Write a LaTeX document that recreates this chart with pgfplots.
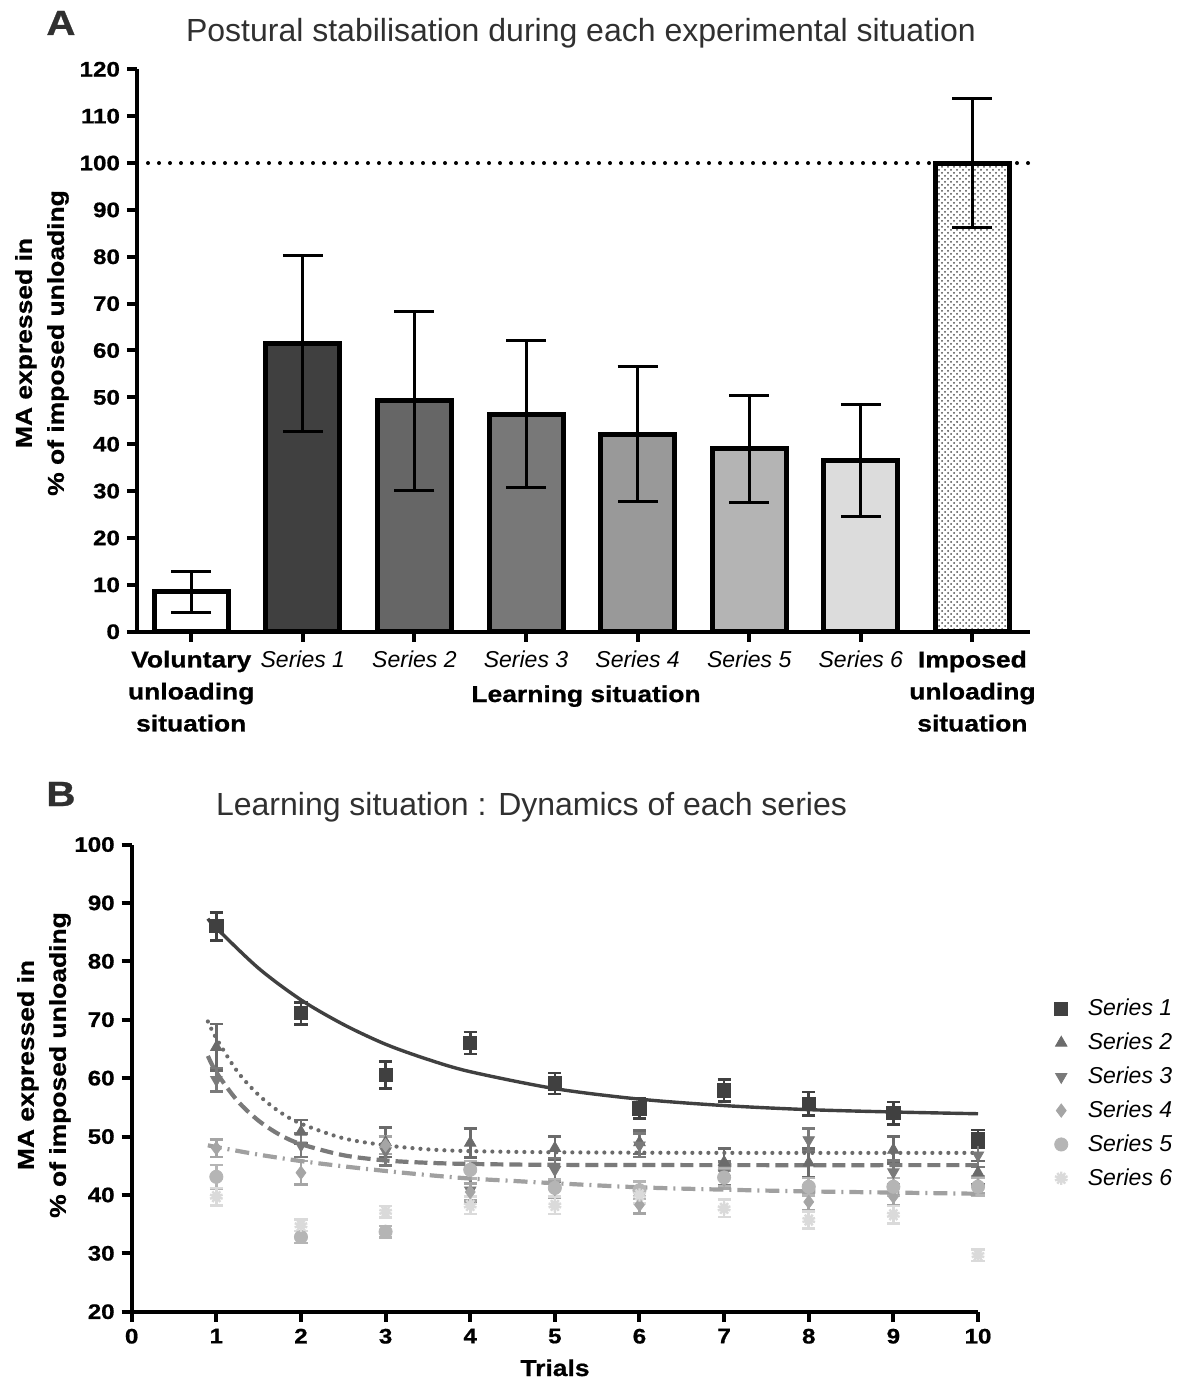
\documentclass[border=0pt]{standalone}
\usepackage{fontspec}
\setmainfont{Liberation Sans}[BoldFeatures={FakeStretch=1.15, FakeBold=0.8}]
\usepackage{pgfplots}
\usepackage{pgfplotstable}
\pgfplotsset{compat=1.18}
\usetikzlibrary{patterns,plotmarks}

\definecolor{ttl}{HTML}{303030}
\definecolor{bA}{HTML}{404040}
\definecolor{bB}{HTML}{666666}
\definecolor{bC}{HTML}{787878}
\definecolor{bD}{HTML}{999999}
\definecolor{bE}{HTML}{B4B4B4}
\definecolor{bF}{HTML}{DCDCDC}
\definecolor{mA}{HTML}{404040}
\definecolor{mB}{HTML}{6B6B6B}
\definecolor{mC}{HTML}{7A7A7A}
\definecolor{mD}{HTML}{A5A5A5}
\definecolor{mE}{HTML}{B5B5B5}
\definecolor{mF}{HTML}{DADADA}
\definecolor{fitD}{HTML}{A0A0A0}

\pgfplotstableread{
x s1 e1 s2 e2 s3 e3 s4 e4 s5 e5 s6 e6
1 86.0 2.4 65.3 4.0 59.7 2.0 48.0 1.5 43.1 2.0 39.7 1.5
2 71.1 1.9 50.8 2.0 48.5 2.0 43.8 2.0 32.8 1.0 34.8 1.0
3 60.5 2.3 49.0 2.5 47.5 2.5 48.5 1.5 33.7 1.0 37.1 1.0
4 66.0 1.9 48.9 2.5 40.8 2.0 40.5 1.5 44.3 1.5 38.2 1.5
5 59.1 1.8 48.0 2.0 44.3 2.0 41.0 1.5 41.2 1.5 38.2 1.5
6 54.8 1.7 49.0 2.0 48.5 2.0 38.3 1.5 40.8 1.5 40.0 1.5
7 57.9 1.9 45.6 2.4 43.7 2.0 42.6 1.5 43.0 1.5 37.7 1.5
8 55.6 2.0 45.5 2.5 49.4 2.0 38.8 1.5 41.4 1.5 35.7 1.5
9 54.0 1.9 47.7 2.3 43.9 2.0 39.7 1.5 41.4 1.5 36.6 1.5
10 49.6 1.5 43.8 2.0 46.8 2.0 41.7 1.5 41.4 1.5 29.7 1.0
}\seriesdata

\pgfplotsset{
  barA/.style={ybar, bar width=37pt, bar shift=0pt, draw=black, line width=2.5pt,
    error bars/y dir=both, error bars/y explicit,
    error bars/error bar style={line width=1.5pt, black, solid},
    error bars/error mark options={rotate=90, mark size=10pt, line width=1.5pt, black}},
  ptB/.style={only marks, mark size=3.3pt,
    error bars/y dir=both, error bars/y explicit,
    error bars/error bar style={line width=1.3pt, #1, solid},
    error bars/error mark options={rotate=90, mark size=3.3pt, line width=1.3pt, #1}},
}

\begin{document}
\begin{tikzpicture}
\useasboundingbox (0,0) rectangle (594.5pt,-689.5pt);

% ---------------- Panel A ----------------
\node[anchor=base west, font=\bfseries\fontsize{17.5}{20}\selectfont, text=ttl, inner sep=0pt] at (23pt,-17.5pt) {A};
\node[anchor=base, font=\fontsize{16}{19}\selectfont, text=ttl, inner sep=0pt] at (290.5pt,-21pt) {Postural stabilisation during each experimental situation};

\begin{axis}[
  at={(68.5pt,-315.85pt)}, anchor=south west,
  scale only axis, width=446.5pt, height=281.2pt,
  xmin=-0.486, xmax=7.516, ymin=0, ymax=120,
  axis lines=left, axis line style={-, line width=2pt},
  ytick={0,10,...,120}, xtick={0,...,7},
  xticklabels={{\bfseries Voluntary\\\bfseries unloading\\\bfseries situation},
    {\itshape Series 1},{\itshape Series 2},{\itshape Series 3},{\itshape Series 4},
    {\itshape Series 5},{\itshape Series 6},
    {\bfseries Imposed\\\bfseries unloading\\\bfseries situation}},
  xticklabel style={align=center, font=\fontsize{11.5}{16}\selectfont, anchor=north, yshift=-1pt},
  yticklabel style={font=\bfseries\fontsize{10.5}{12}\selectfont},
  /pgf/number format/assume math mode=true,
  tick align=outside, major tick length=5pt,
  tick style={line width=2pt, black},
  clip=false,
]
\addplot[no marks, black, line width=2pt, dash pattern=on 0pt off 5.5pt, line cap=round] coordinates {(-0.486,100) (7.58,100)};
\addplot[barA, fill=white] coordinates {(0,8.5) +- (0,4.35)};
\addplot[barA, fill=bA] coordinates {(1,61.5) +- (0,18.7)};
\addplot[barA, fill=bB] coordinates {(2,49.3) +- (0,19.1)};
\addplot[barA, fill=bC] coordinates {(3,46.4) +- (0,15.7)};
\addplot[barA, fill=bD] coordinates {(4,42.1) +- (0,14.4)};
\addplot[barA, fill=bE] coordinates {(5,39.0) +- (0,11.5)};
\addplot[barA, fill=bF] coordinates {(6,36.6) +- (0,11.95)};
\addplot[barA, fill=white, postaction={pattern=crosshatch dots, pattern color=black!70}] coordinates {(7,100) +- (0,13.85)};
\end{axis}

\node[anchor=base, font=\bfseries\fontsize{11.5}{14}\selectfont, inner sep=0pt] at (293pt,-351pt) {Learning situation};
\node[rotate=90, align=center, font=\bfseries\fontsize{11.5}{16}\selectfont] at (21pt,-171.5pt) {MA expressed in\\\% of imposed unloading};

% ---------------- Panel B ----------------
\node[anchor=base west, font=\bfseries\fontsize{17.5}{20}\selectfont, text=ttl, inner sep=0pt] at (23pt,-403pt) {B};
\node[anchor=base, font=\fontsize{16}{19}\selectfont, text=ttl, inner sep=0pt] at (265.75pt,-407.5pt) {Learning situation : Dynamics of each series};

\begin{axis}[
  at={(65.85pt,-655.85pt)}, anchor=south west,
  scale only axis, width=423.15pt, height=233.6pt,
  xmin=0, xmax=10, ymin=20, ymax=100,
  axis lines=left, axis line style={-, line width=2pt},
  xtick={0,...,10}, ytick={20,30,...,100},
  ticklabel style={font=\bfseries\fontsize{10.5}{12}\selectfont},
  /pgf/number format/assume math mode=true,
  tick align=outside, major tick length=5pt,
  tick style={line width=2pt, black},
  clip=false,
  legend style={at={(1.083,0.687)}, anchor=north west, draw=none, fill=none,
    font=\itshape\fontsize{11.5}{13}\selectfont, row sep=3.1pt},
  legend cell align=left,
]
\addplot[ptB=mA, mark=square*, mA] table[x=x, y=s1, y error=e1] {\seriesdata};
\addlegendentry{\hspace{8pt}Series 1}
\addplot[ptB=mB, mark=triangle*, mB] table[x=x, y=s2, y error=e2] {\seriesdata};
\addlegendentry{\hspace{8pt}Series 2}
\addplot[ptB=mC, mark=triangle*, mark options={rotate=180}, mC] table[x=x, y=s3, y error=e3] {\seriesdata};
\addlegendentry{\hspace{8pt}Series 3}
\addplot[ptB=mD, mark=diamond*, mD] table[x=x, y=s4, y error=e4] {\seriesdata};
\addlegendentry{\hspace{8pt}Series 4}
\addplot[ptB=mE, mark=*, mE] table[x=x, y=s5, y error=e5] {\seriesdata};
\addlegendentry{\hspace{8pt}Series 5}
\addplot[ptB=mF, mark=10-pointed star, mF, mark options={fill=mF, line width=1.2pt}] table[x=x, y=s6, y error=e6] {\seriesdata};
\addlegendentry{\hspace{8pt}Series 6}

% fitted curves
\addplot[forget plot, smooth, no marks, mA, line width=1.7pt] coordinates {
(0.9,87.3) (1,85.7) (1.5,78.8) (2,73.4) (2.5,69.2) (3,65.8) (3.5,63.2) (4,61.1)
(5,58.2) (6,56.4) (7,55.3) (8,54.6) (9,54.2) (10,53.9)};
\addplot[forget plot, smooth, no marks, mB, line width=2.1pt, dash pattern=on 0pt off 4pt, line cap=round] coordinates {
(0.9,69.7) (1,66.8) (1.25,61.1) (1.5,57.1) (1.75,54.2) (2,52.2) (2.5,49.7) (3,48.5)
(3.5,47.8) (4,47.5) (5,47.3) (7,47.2) (10,47.2)};
\addplot[forget plot, smooth, no marks, mC, line width=2.1pt, dash pattern=on 6.5pt off 3pt] coordinates {
(0.9,63.8) (1,61.0) (1.25,56.1) (1.5,52.7) (1.75,50.3) (2,48.7) (2.5,46.8) (3,45.9)
(3.5,45.5) (4,45.3) (5,45.15) (7,45.1) (10,45.1)};
\addplot[forget plot, smooth, no marks, fitD, line width=2.1pt, dash pattern=on 7pt off 3pt on 1pt off 3pt] coordinates {
(0.9,48.5) (1,48.2) (1.5,46.9) (2,45.8) (2.5,44.9) (3,44.1) (3.5,43.4) (4,42.8)
(4.5,42.4) (5,42.0) (6,41.3) (7,40.9) (8,40.6) (9,40.4) (10,40.2)};
\end{axis}

\node[anchor=base, font=\bfseries\fontsize{11.5}{14}\selectfont, inner sep=0pt] at (277.5pt,-688pt) {Trials};
\node[rotate=90, align=center, font=\bfseries\fontsize{11.5}{16}\selectfont] at (22pt,-532.5pt) {MA expressed in\\\% of imposed unloading};
\end{tikzpicture}
\end{document}
